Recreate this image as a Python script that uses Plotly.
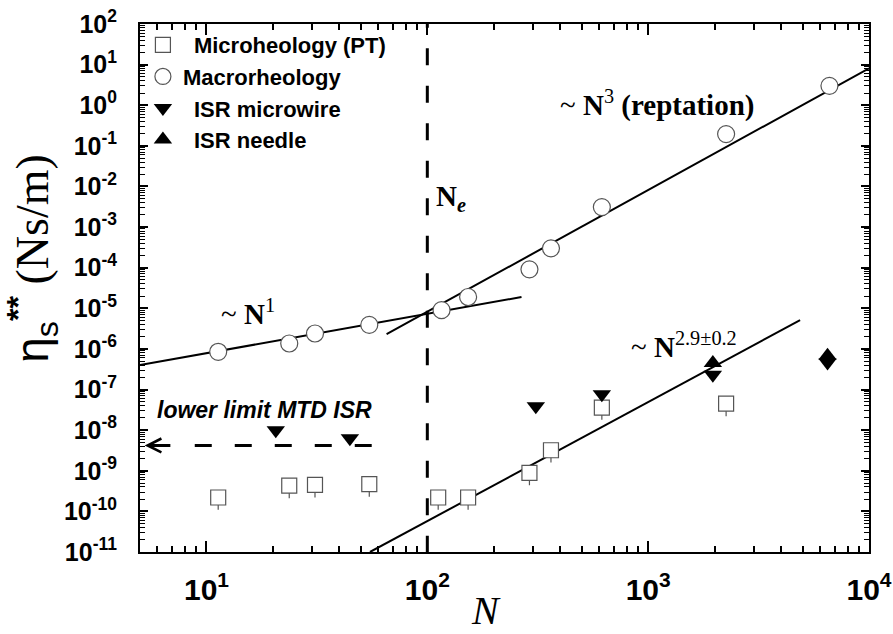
import math
import plotly.graph_objects as go

# ---------------- data ----------------
N_micro = [11.3, 23.7, 31, 54.6, 112, 153, 290, 363, 617, 2254]
eta_micro = [2.2e-10, 4.3e-10, 4.5e-10, 4.7e-10, 2.2e-10, 2.2e-10, 8.9e-10, 3.2e-9, 3.6e-8, 4.5e-8]
eta_micro_errlo = [1.1e-10, 2.2e-10, 2.3e-10, 2.4e-10, 1.1e-10, 1.1e-10, 4.5e-10, 1.6e-9, 1.8e-8, 2.3e-8]

N_macro = [11.3, 23.7, 31, 54.6, 116, 153, 290, 363, 617, 2254, 6620]
eta_macro = [8.5e-7, 1.36e-6, 2.4e-6, 3.9e-6, 9.0e-6, 1.9e-5, 9.1e-5, 3.0e-4, 3.1e-3, 0.195, 3.0]

N_wire = [20.6, 44.6, 310, 617, 1963, 6490]
eta_wire = [1.0e-8, 6.3e-9, 3.9e-8, 7.7e-8, 2.3e-7, 4.6e-7]

N_needle = [1963, 6490]
eta_needle = [4.5e-7, 6.8e-7]

# scaling guide lines (end points)
fit1_N = [5.0, 267]
fit1_eta = [4.0e-7, 1.9e-5]
fit3_N = [65.4, 10000]
fit3_eta = [2.3e-6, 8.1]
fit29_N = [55, 4875]
fit29_eta = [1.0e-11, 5.1e-6]

# entanglement N_e marker line
Ne_N = [100, 100]
Ne_eta = [213, 1.0e-11]

# lower limit of MTD ISR
lim_N = [8.85, 56]
lim_eta = [4.2e-9, 4.2e-9]
lim_arrow_tip_N = 5.25
lim_arrow_tail_N = 6.97

# axis ticks
x_exponents = [1, 2, 3, 4]
y_exponents = [-11, -10, -9, -8, -7, -6, -5, -4, -3, -2, -1, 0, 1, 2]

x_tickvals = [10.0 ** e for e in x_exponents]
x_ticktext = ["10<sup>%d</sup>" % e for e in x_exponents]
y_tickvals = [10.0 ** e for e in y_exponents]
y_ticktext = ["10<sup>%d</sup>" % e for e in y_exponents]

SANS = "Liberation Sans, Arial, sans-serif"
SERIF = "Liberation Serif, Times New Roman, serif"

fig = go.Figure()

# guide lines
fig.add_trace(go.Scatter(x=fit1_N, y=fit1_eta, mode="lines",
                         line=dict(color="black", width=2), showlegend=False, hoverinfo="skip"))
fig.add_trace(go.Scatter(x=fit3_N, y=fit3_eta, mode="lines",
                         line=dict(color="black", width=2), showlegend=False, hoverinfo="skip"))
fig.add_trace(go.Scatter(x=fit29_N, y=fit29_eta, mode="lines",
                         line=dict(color="black", width=2), showlegend=False, hoverinfo="skip"))
fig.add_trace(go.Scatter(x=Ne_N, y=Ne_eta, mode="lines",
                         line=dict(color="black", width=3, dash="17px,20.5px"),
                         showlegend=False, hoverinfo="skip"))
fig.add_trace(go.Scatter(x=lim_N, y=lim_eta, mode="lines",
                         line=dict(color="black", width=3, dash="17px,23px"),
                         showlegend=False, hoverinfo="skip"))

# data
fig.add_trace(go.Scatter(
    x=N_micro, y=eta_micro, mode="markers", name="\u2002Microheology (PT)",
    marker=dict(symbol="square", size=15, color="white", line=dict(color="#555555", width=1.2)),
    error_y=dict(type="data", symmetric=False, array=[0] * len(eta_micro),
                 arrayminus=eta_micro_errlo, color="#555555", thickness=1.2, width=0),
))
fig.add_trace(go.Scatter(
    x=N_macro, y=eta_macro, mode="markers", name="Macrorheology",
    marker=dict(symbol="circle", size=17, color="white", line=dict(color="#555555", width=1.2)),
))
fig.add_trace(go.Scatter(
    x=N_wire, y=eta_wire, mode="markers", name="\u2002ISR microwire",
    marker=dict(symbol="triangle-down", size=16, color="black", line=dict(color="black", width=0)),
))
fig.add_trace(go.Scatter(
    x=N_needle, y=eta_needle, mode="markers", name="\u2002ISR needle",
    marker=dict(symbol="triangle-up", size=16, color="black", line=dict(color="black", width=0)),
))

annotations = [
    dict(x=math.log10(15.4), y=math.log10(8.0e-6), xref="x", yref="y",
         xanchor="center", yanchor="middle",
         text="~ <b>N</b><sup>1</sup>", showarrow=False,
         font=dict(family=SERIF, size=29, color="black")),
    dict(x=math.log10(107), y=math.log10(5.2e-3), xref="x", yref="y",
         xanchor="left", yanchor="middle",
         text="<b>N</b><sub><b><i>e</i></b></sub>", showarrow=False,
         font=dict(family=SERIF, size=29, color="black")),
    dict(x=math.log10(1097), y=math.log10(1.13), xref="x", yref="y",
         xanchor="center", yanchor="middle",
         text="~ <b>N</b><sup>3</sup><b> (reptation)</b>", showarrow=False,
         font=dict(family=SERIF, size=29, color="black")),
    dict(x=math.log10(1455), y=math.log10(1.24e-6), xref="x", yref="y",
         xanchor="center", yanchor="middle",
         text="~ <b>N</b><sup>2.9±0.2</sup>", showarrow=False,
         font=dict(family=SERIF, size=29, color="black")),
    dict(x=math.log10(5.84), y=math.log10(3.1e-8), xref="x", yref="y",
         xanchor="left", yanchor="middle",
         text="<b><i>lower limit MTD ISR</i></b>", showarrow=False,
         font=dict(family=SANS, size=23, color="black")),
    dict(x=math.log10(lim_arrow_tip_N), y=math.log10(lim_eta[0]), xref="x", yref="y",
         ax=math.log10(lim_arrow_tail_N), ay=math.log10(lim_eta[0]), axref="x", ayref="y",
         text="", showarrow=True, arrowhead=5, arrowwidth=3, arrowsize=0.9,
         arrowcolor="black", standoff=0),
    # axis titles
    dict(x=-0.147, y=0.557, xref="paper", yref="paper", textangle=-90,
         xanchor="center", yanchor="middle",
         text='<span style="font-family:Liberation Sans">η<sub>s</sub>'
              '<sup><b>**</b></sup></span> (Ns/m)',
         showarrow=False, font=dict(family=SERIF, size=46, color="black")),
    dict(x=0.4746, y=-0.111, xref="paper", yref="paper",
         xanchor="center", yanchor="middle",
         text="<i>N</i>", showarrow=False,
         font=dict(family=SERIF, size=40, color="black")),
]

fig.update_layout(
    width=893, height=634,
    margin=dict(l=140, r=24, t=24, b=82, autoexpand=False),
    paper_bgcolor="white", plot_bgcolor="white",
    showlegend=True,
    legend=dict(x=0.004, y=1.0, xanchor="left", yanchor="top",
                bgcolor="rgba(0,0,0,0)", borderwidth=0,
                font=dict(family=SANS, size=22, color="black", weight="bold"),
                itemsizing="trace", tracegroupgap=0),
    annotations=annotations,
    xaxis=dict(type="log", range=[math.log10(5), 4], automargin=False,
               tickmode="array", tickvals=x_tickvals, ticktext=x_ticktext,
               ticks="inside", ticklen=11, tickwidth=2, tickcolor="black",
               showline=True, linewidth=2, linecolor="black", mirror="allticks",
               showgrid=False, zeroline=False, ticklabelstandoff=10,
               tickfont=dict(family=SANS, size=30, color="black", weight="bold"),
               minor=dict(ticks="inside", ticklen=6, tickwidth=1.5, tickcolor="black",
                          dtick="D1", showgrid=False)),
    yaxis=dict(type="log", range=[-11, 2], automargin=False,
               tickmode="array", tickvals=y_tickvals, ticktext=y_ticktext,
               ticks="inside", ticklen=8, tickwidth=2, tickcolor="black",
               showline=True, linewidth=2, linecolor="black", mirror="allticks",
               showgrid=False, zeroline=False, ticklabelstandoff=16,
               tickfont=dict(family=SANS, size=25, color="black", weight="bold"),
               minor=dict(ticks="inside", ticklen=5, tickwidth=1.2, tickcolor="black",
                          dtick="D1", showgrid=False)),
)

fig.write_html("out.html")
